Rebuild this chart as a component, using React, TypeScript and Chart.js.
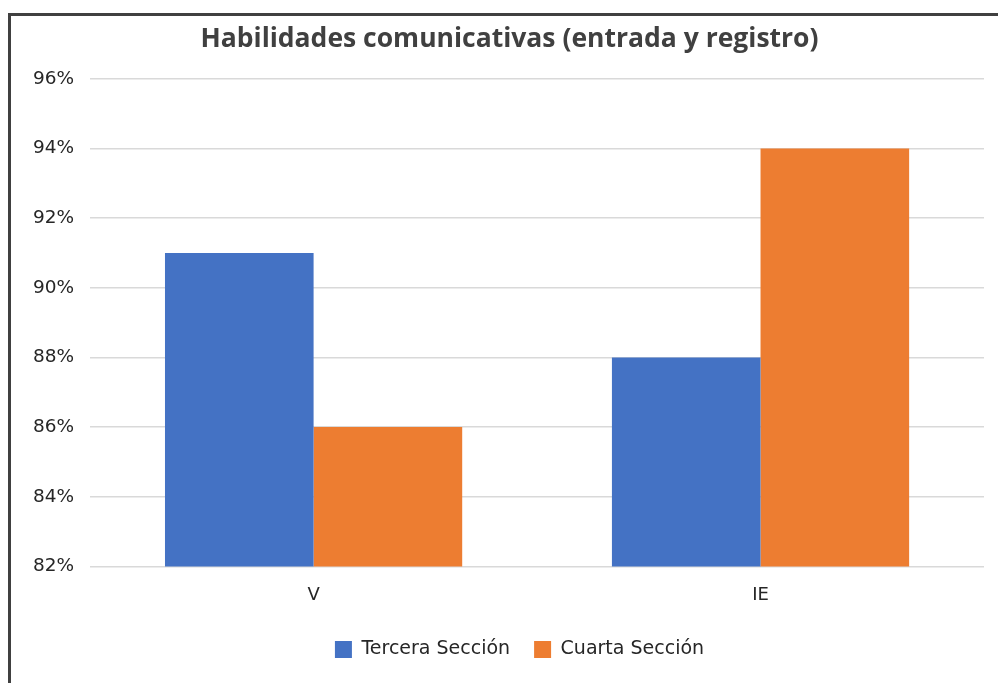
import React, { useEffect, useRef } from "react";
import { Chart, registerables } from "chart.js";

Chart.register(...registerables);

const titleText = "Habilidades comunicativas (entrada y registro)";
const categories = ["V", "IE"];
const terceraSeccion = [91, 88];
const cuartaSeccion = [86, 94];
const seriesNames = ["Tercera Sección", "Cuarta Sección"];
const yMin = 82;
const yMax = 96;
const yStep = 2;

const boxShift = {
  id: "boxShift",
  afterLayout(chart: any) {
    const l = chart.legend;
    if (l) {
      l.left += 19;
      l.right += 19;
    }
    const t = chart.titleBlock;
    if (t) {
      t.left += 9;
      t.right += 9;
    }
  },
};

export default function App() {
  const ref = useRef<HTMLCanvasElement | null>(null);
  useEffect(() => {
    if (!ref.current) return;
    const chart = new Chart(ref.current, {
      type: "bar",
      data: {
        labels: categories,
        datasets: [
          {
            label: seriesNames[0],
            data: terceraSeccion,
            backgroundColor: "#4472C4",
            categoryPercentage: 0.665,
            barPercentage: 1,
          },
          {
            label: seriesNames[1],
            data: cuartaSeccion,
            backgroundColor: "#ED7D31",
            categoryPercentage: 0.665,
            barPercentage: 1,
          },
        ],
      },
      plugins: [boxShift],
      options: {
        responsive: false,
        animation: false,
        layout: { padding: { left: 6, right: 14, top: 2, bottom: 14 } },
        plugins: {
          title: {
            display: true,
            text: titleText,
            color: "#404040",
            font: { family: "Open Sans", size: 26.5, weight: "bold" },
            padding: { top: 6, bottom: 23 },
          },
          legend: {
            position: "bottom",
            labels: {
              color: "#262626",
              font: { family: "DejaVu Sans", size: 19 },
              boxWidth: 17,
              boxHeight: 17,
              padding: 24,
            },
          },
          tooltip: { enabled: false },
        },
        scales: {
          x: {
            grid: { display: false },
            border: { display: false },
            ticks: {
              color: "#262626",
              font: { family: "DejaVu Sans", size: 18 },
              padding: 10,
            },
          },
          y: {
            min: yMin,
            max: yMax,
            grid: { color: "#d9d9d9", lineWidth: 1.5, drawTicks: false },
            border: { display: false },
            ticks: {
              stepSize: yStep,
              color: "#262626",
              font: { family: "DejaVu Sans", size: 18.5 },
              padding: 16,
              callback: (v: any) => v + "%",
            },
          },
        },
      },
    });
    return () => chart.destroy();
  }, []);
  return (
    <div
      style={{
        position: "fixed",
        left: 8,
        top: 13,
        width: 1000,
        height: 700,
        borderLeft: "3px solid #404040",
        borderTop: "3px solid #404040",
        overflow: "hidden",
        background: "#fff",
      }}
    >
      <canvas ref={ref} width={987} height={667} style={{ display: "block" }} />
    </div>
  );
}
